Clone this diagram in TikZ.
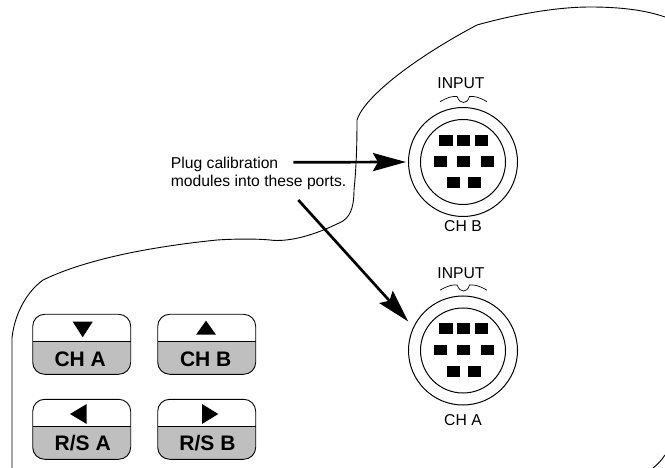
\documentclass[tikz,border=0pt]{standalone}
\usepackage{fontspec}
\setmainfont{Liberation Sans}
\usetikzlibrary{arrows.meta}
\definecolor{btngray}{gray}{0.75}
\tikzset{
  outline/.style={draw=black,line width=0.9pt,line join=round},
  lbl/.style={font=\fontsize{15.7}{18.6}\selectfont,inner sep=0pt,align=left},
  btnlbl/.style={font=\fontsize{21}{23}\selectfont\bfseries,inner sep=0pt},
  ring/.style={circle,draw=black,line width=1pt,inner sep=0pt,outer sep=0pt,minimum size=#1},
  pin/.style={fill=black,draw=none},
  callout/.style={draw=black,line width=2.7pt,-{Stealth[length=33pt,width=18pt,inset=5pt]}},
}
% x left, y top, name, label, label position, triangle path
\newcommand{\panelbtn}[6]{%
  \begin{scope}[shift={(#1,#2)}]
    \begin{scope}
      \clip[rounded corners=12pt] (0,0) rectangle (98,60);
      \fill[btngray] (0,27.5) rectangle (98,60);
    \end{scope}
    \draw[outline,rounded corners=12pt] (0,0) rectangle (98,60);
    \draw[outline] (0,27.5) -- (98,27.5);
    \node[btnlbl] (#3) at (#5) {#4};
    \fill #6;
  \end{scope}}
\newcommand{\connector}[2]{% centre y, ring name
  \node[ring=109pt] (#2) at (463,#1) {};
  \node[ring=85pt] (#2inner) at (463,#1) {};
  \begin{scope}[shift={(463,#1)}]
    \foreach \a in {-23.7,-6,11.9} \fill[pin] (\a,-27) rectangle ++(13.3,10.7);
    \foreach \a in {-29.3,-6,17.7} \fill[pin] (\a,-6) rectangle ++(13.3,10.7);
    \foreach \a in {-16.3,4.7} \fill[pin] (\a,15.3) rectangle ++(13.3,11);
    \draw[line width=0.7pt] (-23,-60.3) .. controls (-15,-65) and (-10,-66) .. (-6,-65.5)
       .. controls (-4,-61) and (-2,-59.5) .. (0.5,-59.5)
       .. controls (3,-59.5) and (5,-61) .. (6.5,-65.5)
       .. controls (11,-66) and (16,-65) .. (24,-60.3);
  \end{scope}}
\begin{document}
\begin{tikzpicture}[x=1pt,y=-1pt]
\useasboundingbox (0,0) rectangle (665,468);
% housing outline
\draw[outline] (12,468) -- (12,338) .. controls (14,318) and (24,294) .. (43,280)
  .. controls (70,267) and (120,250) .. (217,240)
  .. controls (240,238.5) and (260,239) .. (270,240)
  .. controls (285,242) and (310,238) .. (343,221)
  .. controls (352,215) and (354,203) .. (354,190)
  .. controls (356,170) and (357,150) .. (357,120)
  .. controls (365,95) and (420,55) .. (477,25)
  .. controls (520,13) and (560,7) .. (590,7)
  .. controls (620,7) and (645,10) .. (665,17);
\draw[outline] (665,455) .. controls (661,461) and (657,465) .. (653,468);
% connectors
\connector{162}{chb}
\connector{350.5}{cha}
\node[lbl] (inb) at (461,83.5) {INPUT};
\node[lbl] (ina) at (461,273) {INPUT};
\node[lbl] (capb) at (463,226) {CH B};
\node[lbl] (capa) at (463,420.5) {CH A};
% note and arrows
\node[lbl,anchor=north west] (note) at (170.7,156.5) {Plug calibration\\modules into these ports.};
\coordinate (startb) at (293.3,162.3);
\coordinate (starta) at (298.3,200);
\draw[callout,shorten >=2.5pt] (startb) -- (chb.west);
\draw[callout,shorten >=8pt] (starta) -- (cha.155.6);
% buttons
\panelbtn{32.7}{314.3}{btna}{CH A}{47.5,45}{(40,7.4) -- (60,7.4) -- (50,23) -- cycle}
\panelbtn{157.7}{314.3}{btnb}{CH B}{48,45}{(38.3,20.4) -- (58.3,20.4) -- (48.3,6.4) -- cycle}
\panelbtn{32.7}{399.3}{btnc}{R/S A}{50,44}{(54,4.7) -- (54,24.7) -- (37.3,14.7) -- cycle}
\panelbtn{157.7}{399.3}{btnd}{R/S B}{49.8,44}{(44.3,4.7) -- (44.3,24.7) -- (60.6,14.7) -- cycle}
\end{tikzpicture}
\end{document}
